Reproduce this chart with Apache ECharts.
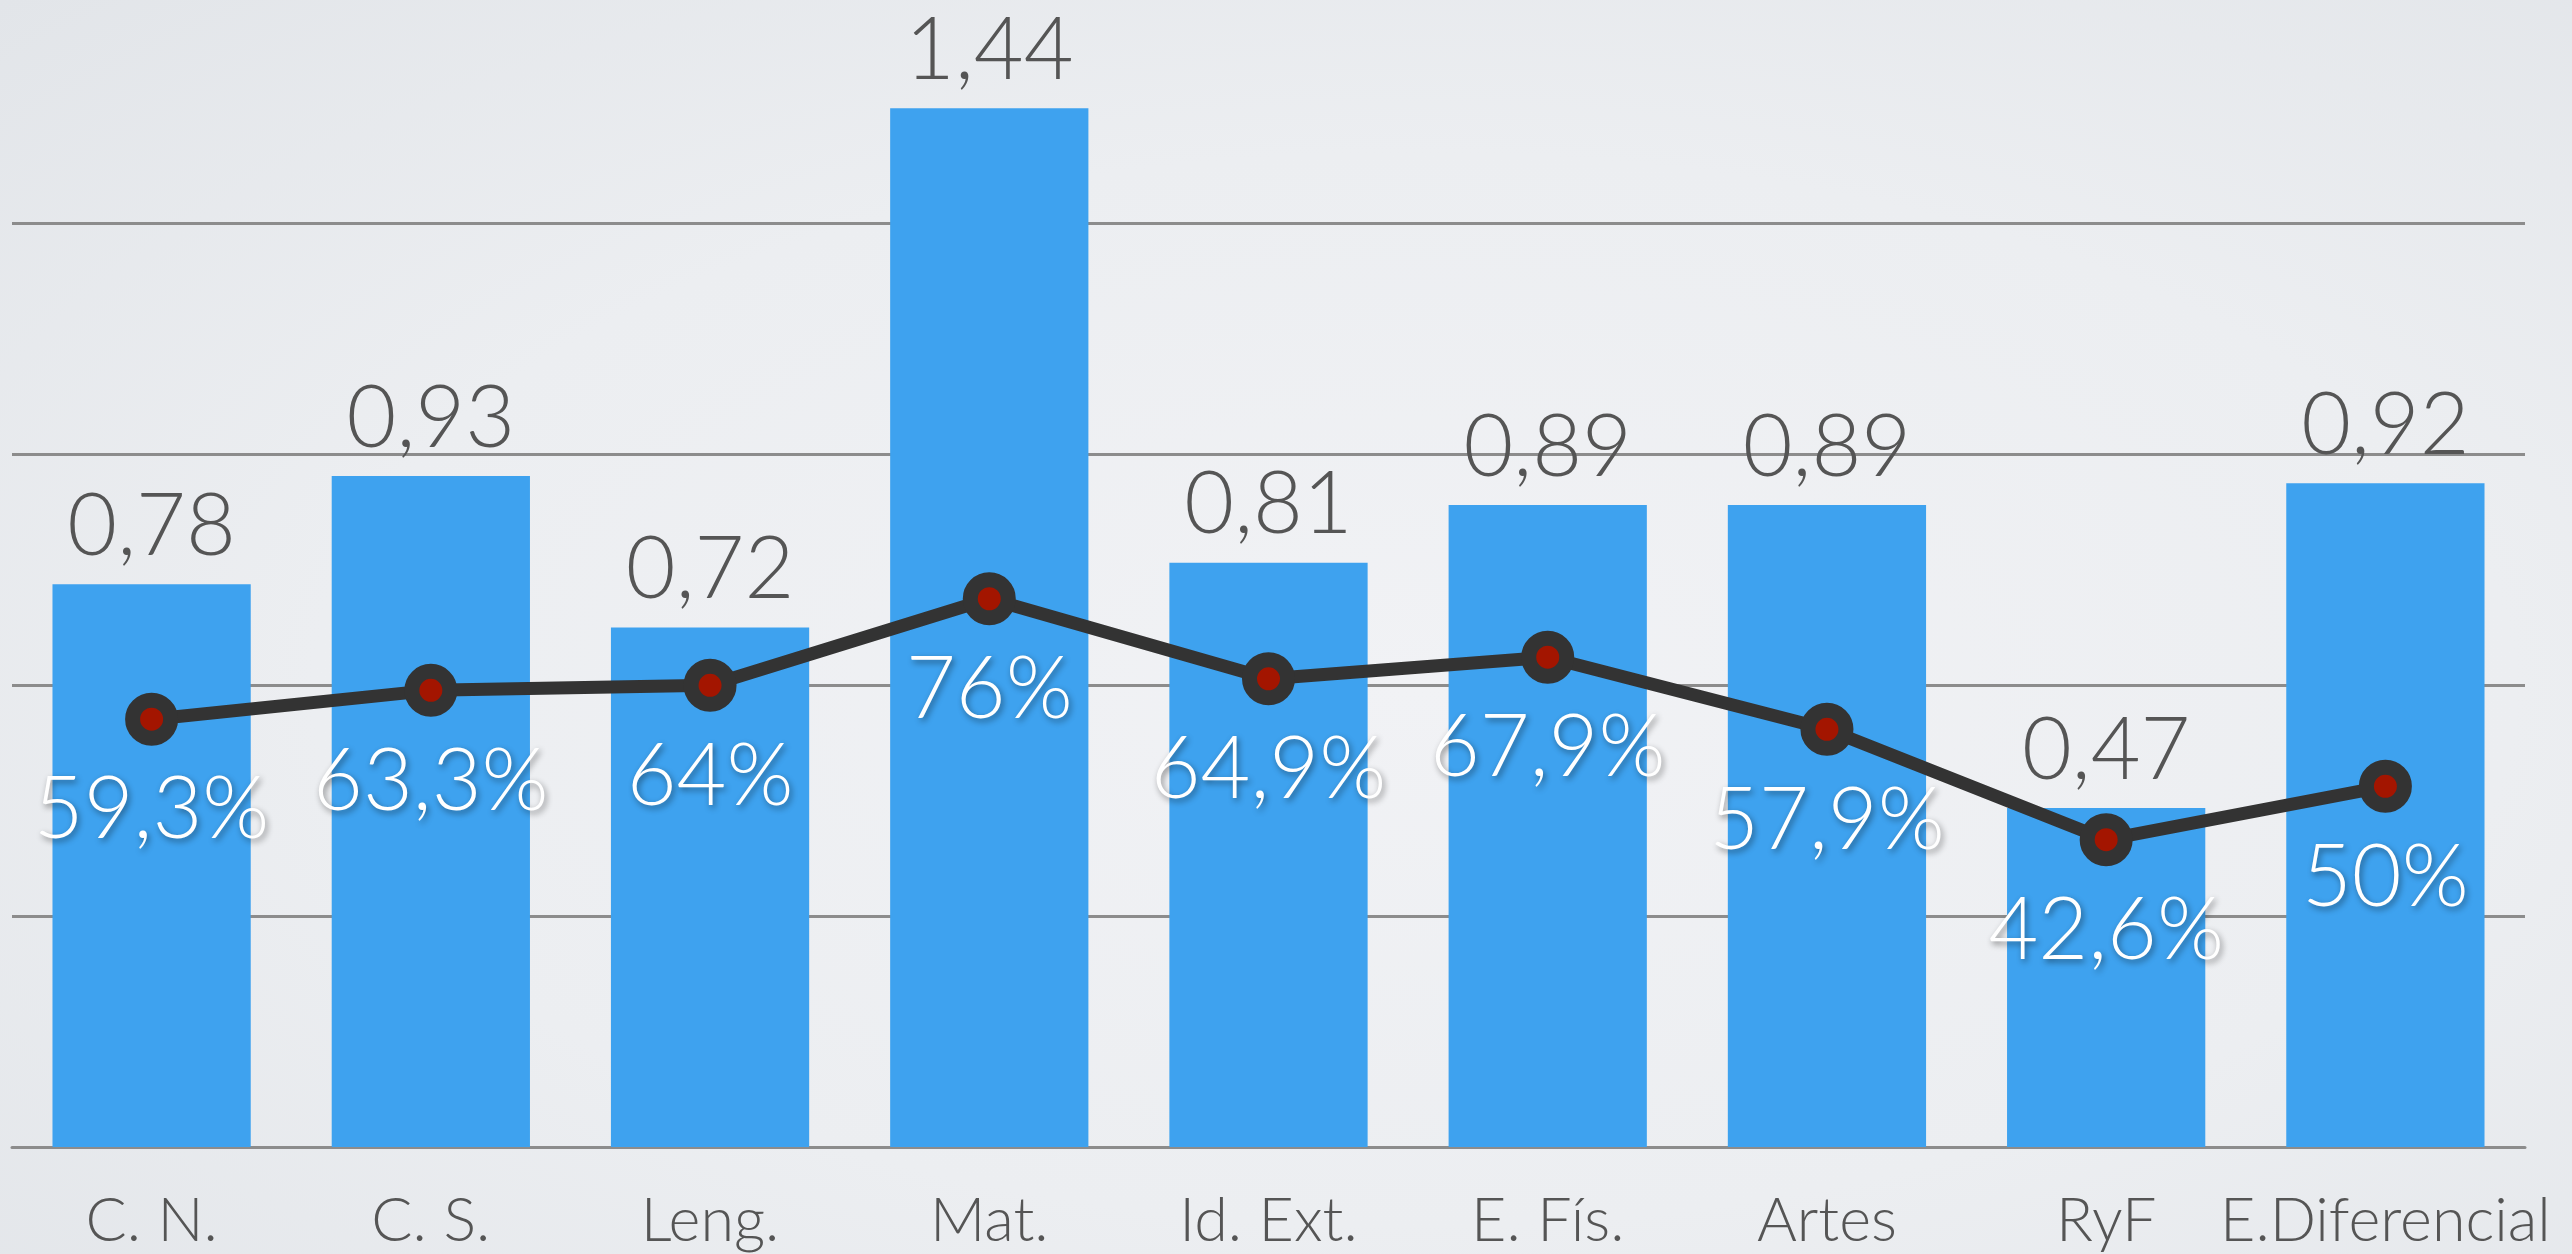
<!DOCTYPE html>
<html>
<head>
<meta charset="utf-8">
<script src="https://cdn.jsdelivr.net/npm/echarts@6/dist/echarts.min.js"></script>
<style>
html,body{margin:0;padding:0;width:2572px;height:1254px;overflow:hidden;
background: radial-gradient(ellipse at 55% 55%, #f1f2f5 0%, #eceef1 55%, #e2e5e9 100%);}
#chart{width:2572px;height:1254px;}
</style>
</head>
<body>
<div id="chart"></div>
<script>
const categories = ['C. N.', 'C. S.', 'Leng.', 'Mat.', 'Id. Ext.', 'E. Fís.', 'Artes', 'RyF', 'E.Diferencial'];
const barValues = [0.78, 0.93, 0.72, 1.44, 0.81, 0.89, 0.89, 0.47, 0.92];
const lineValues = [0.593, 0.633, 0.64, 0.76, 0.649, 0.679, 0.579, 0.426, 0.50];
const yMin = 0, yMax = 1.59, yInterval = 0.32;

const FONT = 'Lato';
function fmtBar(v){ return v.toFixed(2).replace('.', ','); }
function fmtPct(v){ let s = (Math.round(v*1000)/10).toString(); return s.replace('.', ',') + '%'; }

const chart = echarts.init(document.getElementById('chart'), null, {renderer:'canvas'});
chart.setOption({
  backgroundColor: 'transparent',
  animation: false,
  grid: {left: 12, right: 47, top: 0, bottom: 107, containLabel: false},
  xAxis: {
    type: 'category', data: categories,
    axisLine: {show: true, lineStyle: {color: '#8c8c8c', width: 3}},
    axisTick: {show: false},
    axisLabel: {color: '#555555', fontFamily: FONT, fontWeight: 300, fontSize: 61, margin: 44, interval: 0}
  },
  yAxis: {
    type: 'value', min: yMin, max: yMax, interval: yInterval,
    axisLine: {show: false}, axisTick: {show: false}, axisLabel: {show: false},
    splitLine: {show: true, showMaxLine: false, lineStyle: {color: '#8c8c8c', width: 3}}
  },
  series: [
    {
      type: 'bar', data: barValues, barCategoryGap: '29%',
      itemStyle: {color: '#3ea2ef'},
      label: {show: true, position: 'top', distance: 14, formatter: p => fmtBar(p.value),
        color: '#555555', fontFamily: FONT, fontWeight: 300, fontSize: 86, lineHeight: 86},
      z: 2
    },
    {
      type: 'line', data: lineValues,
      lineStyle: {color: '#333333', width: 13},
      symbol: 'circle', symbolSize: 38,
      itemStyle: {color: '#a31500', borderColor: '#333333', borderWidth: 15},
      label: {show: true, position: 'bottom', distance: 22, formatter: p => fmtPct(p.value),
        color: '#ffffff', fontFamily: FONT, fontWeight: 300, fontSize: 86, lineHeight: 86,
        textShadowColor: 'rgba(0,0,0,0.45)', textShadowBlur: 6, textShadowOffsetX: 2, textShadowOffsetY: 3},
      z: 5
    }
  ]
});
</script>
</body>
</html>
